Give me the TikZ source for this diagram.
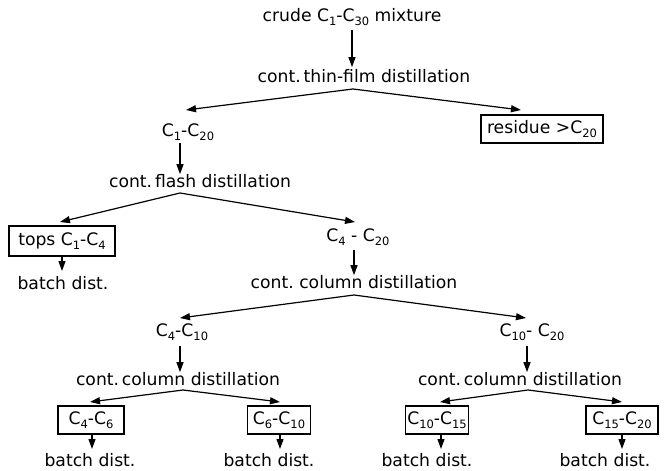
\documentclass[tikz,border=0pt]{standalone}
\usepackage{fontspec}
\setmainfont{DejaVu Sans}
\usetikzlibrary{arrows.meta}
\newcommand{\sbn}[1]{\raisebox{-4.5pt}{\fontsize{11.5}{11.5}\selectfont #1}}
\newcommand{\Cn}[1]{C\sbn{#1}}
\begin{document}
\begin{tikzpicture}[x=1pt,y=-1pt,
  lbl/.style={inner sep=0pt, font=\fontsize{17.2}{18}\selectfont},
  pbox/.style={lbl, draw, line width=1.3pt, minimum height=28pt},
  arr/.style={line width=1.2pt, -{Triangle[length=10pt,width=7pt]}}]
\useasboundingbox (0,0) rectangle (667,471);
% nodes
\node[lbl] (crude) at (352,17) {crude \Cn{1}-\Cn{30} mixture};
\node[lbl] (thin) at (364,76) {cont.\,thin-film distillation};
\node[lbl] (c120) at (188,132) {\Cn{1}-\Cn{20}};
\node[pbox, minimum width=122pt] (res) at (542,129) {residue >\Cn{20}};
\node[lbl] (flash) at (200,181) {cont.\,flash distillation};
\node[pbox, minimum width=106pt, minimum height=30pt] (tops) at (62,241) {tops \Cn{1}-\Cn{4}};
\node[lbl] (b1) at (63,283) {batch dist.};
\node[lbl] (c420) at (358,237) {\Cn{4} - \Cn{20}};
\node[lbl] (col1) at (354,282) {cont.\ column distillation};
\node[lbl] (c410) at (182,332) {\Cn{4}-\Cn{10}};
\node[lbl] (c1020) at (532,332) {\Cn{10}- \Cn{20}};
\node[lbl] (col2) at (178,379) {cont.\,column distillation};
\node[lbl] (col3) at (520,379) {cont.\,column distillation};
\node[pbox, minimum width=66pt] (x46) at (91,420) {\Cn{4}-\Cn{6}};
\node[pbox, minimum width=63pt] (x610) at (279,420) {\Cn{6}-\Cn{10}};
\node[pbox, minimum width=63pt] (x1015) at (437,420) {\Cn{10}-\Cn{15}};
\node[pbox, minimum width=72pt] (x1520) at (622,420) {\Cn{15}-\Cn{20}};
\node[lbl] (b2) at (90,460) {batch dist.};
\node[lbl] (b3) at (269,460) {batch dist.};
\node[lbl] (b4) at (427,460) {batch dist.};
\node[lbl] (b5) at (605,460) {batch dist.};
% branch points and arrow ends
\coordinate (ap1) at (353,89);
\coordinate (t1a) at (186,110);
\coordinate (t1b) at (521,110);
\coordinate (ap2) at (180,193);
\coordinate (t2a) at (60,222);
\coordinate (t2b) at (355,222);
\coordinate (ap3) at (354,295);
\coordinate (t3a) at (180,318);
\coordinate (t3b) at (526,318);
\coordinate (ap4) at (183,390);
\coordinate (t4a) at (90,402);
\coordinate (t4b) at (280,402);
\coordinate (ap5) at (528,390);
\coordinate (t5a) at (440,402);
\coordinate (t5b) at (622,402);
% vertical arrows
\draw[arr] (352,30) coordinate (s0) -- (s0 |- thin.north) [shorten >=2pt];
\draw[arr] (180,143) coordinate (s1) -- (s1 |- flash.north);
\draw[arr] (tops.south -| 62,0) -- (62,271) coordinate (e2);
\draw[arr] (354,250) coordinate (s3) -- (s3 |- col1.north);
\draw[arr] (180,346) coordinate (s4) -- (s4 |- col2.north);
\draw[arr] (527,346) coordinate (s5) -- (s5 |- col3.north);
\draw[arr] (x46.south -| 92,0) -- (92,449) coordinate (e6);
\draw[arr] (x610.south -| 280,0) -- (280,449) coordinate (e7);
\draw[arr] (x1015.south -| 441,0) -- (441,449) coordinate (e8);
\draw[arr] (x1520.south -| 622,0) -- (622,449) coordinate (e9);
% branches
\draw[arr] (ap1) -- (t1a);
\draw[arr] (ap1) -- (t1b);
\draw[arr] (ap2) -- (t2a);
\draw[arr] (ap2) -- (t2b);
\draw[arr] (ap3) -- (t3a);
\draw[arr] (ap3) -- (t3b);
\draw[arr] (ap4) -- (t4a);
\draw[arr] (ap4) -- (t4b);
\draw[arr] (ap5) -- (t5a);
\draw[arr] (ap5) -- (t5b);
\end{tikzpicture}
\end{document}
